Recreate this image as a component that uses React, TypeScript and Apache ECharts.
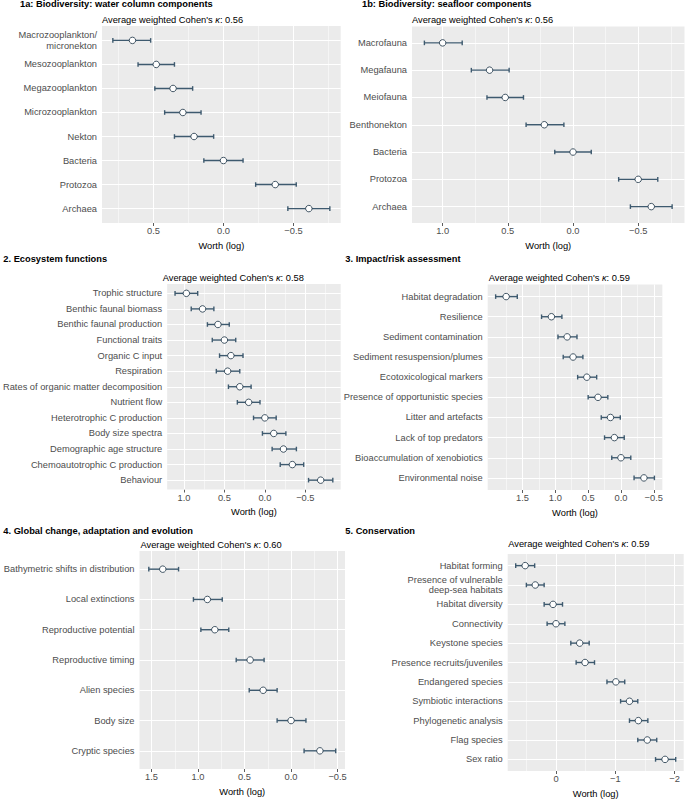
import React, { useEffect, useRef } from 'react';
import * as echarts from 'echarts';

const FONT = '"Liberation Sans", Arial, Helvetica, sans-serif';
const BAR = '#3E5A6F';
const PT_BORDER = '#2E4354';

// ---- 1a: Biodiversity: water column components ----
const CATS_1A = ['Macrozooplankton/\nmicronekton', 'Mesozooplankton', 'Megazooplankton', 'Microzooplankton', 'Nekton', 'Bacteria', 'Protozoa', 'Archaea'];
const WORTH_1A = [0.65, 0.48, 0.36, 0.29, 0.21, 0, -0.37, -0.61];
const HI_1A = [0.79, 0.61, 0.49, 0.42, 0.35, 0.14, -0.23, -0.46];
const LO_1A = [0.52, 0.35, 0.22, 0.16, 0.07, -0.14, -0.52, -0.76];

// ---- 1b: Biodiversity: seafloor components ----
const CATS_1B = ['Macrofauna', 'Megafauna', 'Meiofauna', 'Benthonekton', 'Bacteria', 'Protozoa', 'Archaea'];
const WORTH_1B = [1.0, 0.64, 0.52, 0.22, 0, -0.5, -0.6];
const HI_1B = [1.14, 0.78, 0.66, 0.36, 0.14, -0.35, -0.44];
const LO_1B = [0.85, 0.49, 0.38, 0.07, -0.14, -0.65, -0.76];

// ---- 2. Ecosystem functions ----
const CATS_2 = ['Trophic structure', 'Benthic faunal biomass', 'Benthic faunal production', 'Functional traits', 'Organic C input', 'Respiration', 'Rates of organic matter decomposition', 'Nutrient flow', 'Heterotrophic C production', 'Body size spectra', 'Demographic age structure', 'Chemoautotrophic C production', 'Behaviour'];
const WORTH_2 = [0.97, 0.77, 0.58, 0.5, 0.42, 0.46, 0.31, 0.2, 0, -0.11, -0.23, -0.34, -0.69];
const HI_2 = [1.11, 0.91, 0.71, 0.65, 0.56, 0.6, 0.45, 0.34, 0.14, 0.03, -0.09, -0.19, -0.54];
const LO_2 = [0.83, 0.63, 0.44, 0.36, 0.27, 0.31, 0.17, 0.06, -0.14, -0.26, -0.39, -0.48, -0.84];

// ---- 3. Impact/risk assessment ----
const CATS_3 = ['Habitat degradation', 'Resilience', 'Sediment contamination', 'Sediment resuspension/plumes', 'Ecotoxicological markers', 'Presence of opportunistic species', 'Litter and artefacts', 'Lack of top predators', 'Bioaccumulation of xenobiotics', 'Environmental noise'];
const WORTH_3 = [1.75, 1.06, 0.82, 0.73, 0.52, 0.35, 0.16, 0.1, 0, -0.35];
const HI_3 = [1.91, 1.21, 0.96, 0.88, 0.66, 0.5, 0.3, 0.25, 0.14, -0.2];
const LO_3 = [1.58, 0.9, 0.67, 0.58, 0.37, 0.2, 0.01, -0.05, -0.15, -0.51];

// ---- 4. Global change, adaptation and evolution ----
const CATS_4 = ['Bathymetric shifts in distribution', 'Local extinctions', 'Reproductive potential', 'Reproductive timing', 'Alien species', 'Body size', 'Cryptic species'];
const WORTH_4 = [1.38, 0.9, 0.82, 0.44, 0.3, 0, -0.31];
const HI_4 = [1.53, 1.05, 0.97, 0.59, 0.45, 0.15, -0.14];
const LO_4 = [1.21, 0.74, 0.67, 0.29, 0.15, -0.16, -0.48];

// ---- 5. Conservation ----
const CATS_5 = ['Habitat forming', 'Presence of vulnerable\ndeep-sea habitats', 'Habitat diversity', 'Connectivity', 'Keystone species', 'Presence recruits/juveniles', 'Endangered species', 'Symbiotic interactions', 'Phylogenetic analysis', 'Flag species', 'Sex ratio'];
const WORTH_5 = [0.52, 0.35, 0.05, 0, -0.4, -0.49, -1.01, -1.24, -1.39, -1.54, -1.84];
const HI_5 = [0.68, 0.5, 0.2, 0.15, -0.25, -0.34, -0.86, -1.09, -1.24, -1.38, -1.68];
const LO_5 = [0.36, 0.2, -0.11, -0.15, -0.56, -0.65, -1.16, -1.38, -1.55, -1.7, -2.02];

// tick values
const MAJOR_1A = [0.5, 0, -0.5];
const MINOR_1A = [0.75, 0.25, -0.25, -0.75];
const MAJOR_1B = [1, 0.5, 0, -0.5];
const MINOR_1B = [0.75, 0.25, -0.25, -0.75];
const MAJOR_2 = [1, 0.5, 0, -0.5];
const MINOR_2 = [0.75, 0.25, -0.25, -0.75];
const MAJOR_3 = [1.5, 1, 0.5, 0, -0.5];
const MINOR_3 = [1.75, 1.25, 0.75, 0.25, -0.25];
const MAJOR_4 = [1.5, 1, 0.5, 0, -0.5];
const MINOR_4 = [1.25, 0.75, 0.25, -0.25];
const MAJOR_5 = [0, -1, -2];
const MINOR_5 = [0.5, -0.5, -1.5];

const TITLES = ['1a: Biodiversity: water column components', '1b: Biodiversity: seafloor components', '2. Ecosystem functions', '3. Impact/risk assessment', '4. Global change, adaptation and evolution', '5. Conservation'];
const KAPPAS = ['0.56', '0.56', '0.58', '0.59', '0.60', '0.59'];

const fmt1 = (v: number) => (v < -1e-9 ? '\u2212' : '') + Math.abs(v).toFixed(1);
const fmt0 = (v: number) => (v < -1e-9 ? '\u2212' : '') + Math.abs(v).toFixed(0);

const PANELS = [
  { cats: CATS_1A, worth: WORTH_1A, hi: HI_1A, lo: LO_1A, major: MAJOR_1A, minor: MINOR_1A, fmt: fmt1,
    left: 102, top: 26, width: 238.7, height: 197, min: -0.8375, max: 0.8675,
    tx: 20, ty: 5, sx: 102, sy: 20.5 },
  { cats: CATS_1B, worth: WORTH_1B, hi: HI_1B, lo: LO_1B, major: MAJOR_1B, minor: MINOR_1B, fmt: fmt1,
    left: 412, top: 26.5, width: 272.5, height: 196.5, min: -0.855, max: 1.235,
    tx: 362, ty: 5, sx: 412, sy: 20.5 },
  { cats: CATS_2, worth: WORTH_2, hi: HI_2, lo: LO_2, major: MAJOR_2, minor: MINOR_2, fmt: fmt1,
    left: 162.7, top: 284, width: 178, height: 205.5, min: -0.9375, max: 1.2075,
    tx: 3.3, ty: 259.3, sx: 162.7, sy: 278.5 },
  { cats: CATS_3, worth: WORTH_3, hi: HI_3, lo: LO_3, major: MAJOR_3, minor: MINOR_3, fmt: fmt1,
    left: 487.7, top: 284.5, width: 195.8, height: 205.5, min: -0.631, max: 2.031,
    tx: 345.3, ty: 259.3, sx: 488.7, sy: 278.5 },
  { cats: CATS_4, worth: WORTH_4, hi: HI_4, lo: LO_4, major: MAJOR_4, minor: MINOR_4, fmt: fmt1,
    left: 139.5, top: 551, width: 205.5, height: 218, min: -0.58, max: 1.63,
    tx: 3.3, ty: 531.5, sx: 140.5, sy: 545.5 },
  { cats: CATS_5, worth: WORTH_5, hi: HI_5, lo: LO_5, major: MAJOR_5, minor: MINOR_5, fmt: fmt0,
    left: 507.7, top: 554, width: 176, height: 217, min: -2.155, max: 0.815,
    tx: 345.3, ty: 531.5, sx: 508.2, sy: 545 },
];

const FS = 9.3;

function buildOption() {
  const title: any[] = [];
  const grid: any[] = [];
  const xAxis: any[] = [];
  const yAxis: any[] = [];
  const series: any[] = [];

  PANELS.forEach((p, i) => {
    title.push({
      text: TITLES[i], left: p.tx, top: p.ty - FS / 2 - 0.5, padding: 0,
      textStyle: { fontFamily: FONT, fontSize: FS, fontWeight: 'bold', color: '#000' },
    });
    title.push({
      text: "Average weighted Cohen's {k|\u03BA}: " + KAPPAS[i], left: p.sx, top: p.sy - FS / 2 - 0.5, padding: 0,
      textStyle: {
        fontFamily: FONT, fontSize: FS, fontWeight: 'normal', color: '#000',
        rich: { k: { fontFamily: FONT, fontSize: FS, fontStyle: 'italic', color: '#000' } },
      },
    });
    grid.push({
      left: p.left, top: p.top, width: p.width, height: p.height,
      show: true, backgroundColor: '#EBEBEB', borderWidth: 0, containLabel: false,
    });
    xAxis.push({
      type: 'value', gridIndex: i, min: p.min, max: p.max, inverse: true, position: 'bottom',
      axisLine: { show: false },
      axisTick: { show: true, length: 3, lineStyle: { color: '#333', width: 0.8 }, customValues: p.major },
      axisLabel: { customValues: p.major, formatter: p.fmt, color: '#4D4D4D', fontSize: FS, fontFamily: FONT, margin: 3.5 },
      splitLine: { show: false },
      name: 'Worth (log)', nameLocation: 'middle', nameGap: 18,
      nameTextStyle: { color: '#000', fontSize: FS, fontFamily: FONT },
    });
    const idx = p.cats.map((_, k) => k + 1);
    const cats = p.cats;
    yAxis.push({
      type: 'value', gridIndex: i, min: 0.4, max: cats.length + 0.6, inverse: true,
      axisLine: { show: false },
      axisTick: { show: true, length: 3, lineStyle: { color: '#333', width: 0.8 }, customValues: idx },
      axisLabel: {
        customValues: idx, formatter: (v: number) => cats[Math.round(v) - 1] ?? '',
        color: '#4D4D4D', fontSize: FS, fontFamily: FONT, margin: 5, lineHeight: 10.5,
      },
      splitLine: { show: false },
    });
    // panel grid lines (ggplot style): major + minor verticals, horizontals at each category
    series.push({
      type: 'scatter', xAxisIndex: i, yAxisIndex: i, z: 1, silent: true,
      symbolSize: 0, data: p.worth.map((w, k) => [w, k + 1]),
      itemStyle: { opacity: 0 },
      markLine: {
        silent: true, symbol: ['none', 'none'], label: { show: false }, z: 1,
        emphasis: { disabled: true },
        lineStyle: { color: '#FFFFFF', type: 'solid', width: 1 },
        data: [
          ...p.minor.map((v) => ({ xAxis: v, lineStyle: { color: '#FFFFFF', type: 'solid', width: 0.5 } })),
          ...p.major.map((v) => ({ xAxis: v, lineStyle: { color: '#FFFFFF', type: 'solid', width: 1.1 } })),
          ...idx.map((v) => ({ yAxis: v, lineStyle: { color: '#FFFFFF', type: 'solid', width: 1.1 } })),
        ],
      },
    });
    series.push({
      type: 'custom', xAxisIndex: i, yAxisIndex: i, z: 8,
      data: p.cats.map((_, k) => [p.hi[k], p.lo[k], k + 1]),
      encode: { x: [0, 1], y: 2 },
      renderItem: (params: any, api: any) => {
        const y = api.value(2);
        const a = api.coord([api.value(0), y]);
        const b = api.coord([api.value(1), y]);
        const h = 2.3;
        const style = { stroke: BAR, lineWidth: 1.4, fill: null };
        return {
          type: 'group',
          children: [
            { type: 'line', shape: { x1: a[0], y1: a[1], x2: b[0], y2: b[1] }, style },
            { type: 'line', shape: { x1: a[0], y1: a[1] - h, x2: a[0], y2: a[1] + h }, style },
            { type: 'line', shape: { x1: b[0], y1: b[1] - h, x2: b[0], y2: b[1] + h }, style },
          ],
        };
      },
    });
    series.push({
      type: 'scatter', xAxisIndex: i, yAxisIndex: i, z: 9,
      symbol: 'circle', symbolSize: 6.5,
      itemStyle: { color: '#FFFFFF', borderColor: PT_BORDER, borderWidth: 0.9, opacity: 1 },
      data: p.worth.map((w, k) => [w, k + 1]),
    });
  });

  return { animation: false, textStyle: { fontFamily: FONT }, title, grid, xAxis, yAxis, series };
}

export default function App() {
  const ref = useRef<HTMLDivElement>(null);
  useEffect(() => {
    document.body.style.margin = '0';
    const el = ref.current;
    if (!el) return;
    const chart = echarts.init(el, null, { renderer: 'svg' });
    chart.setOption(buildOption() as any);
    return () => chart.dispose();
  }, []);
  return <div ref={ref} style={{ width: 685, height: 799, background: '#fff' }} />;
}
